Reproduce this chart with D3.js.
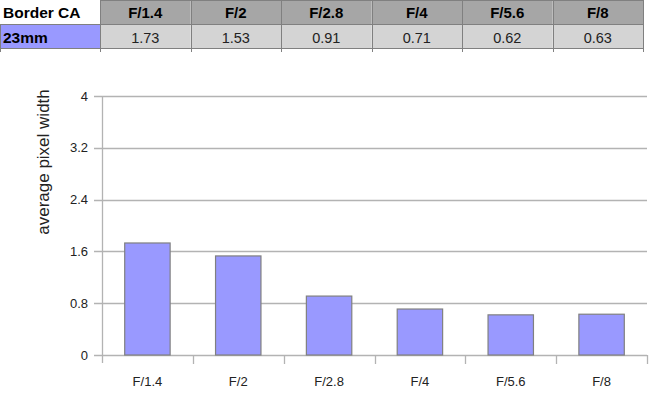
<!DOCTYPE html>
<html><head><meta charset="utf-8">
<script src="https://cdn.jsdelivr.net/npm/d3@7"></script>
<style>body{margin:0;background:#fff}svg{display:block}</style>
</head><body>
<svg id="c" width="665" height="395"></svg>
<script>
const categories = ["F/1.4","F/2","F/2.8","F/4","F/5.6","F/8"];
const values = [1.73,1.53,0.91,0.71,0.62,0.63];
const rowLabel = "23mm";
const tableTitle = "Border CA";
const yTicks = [0,0.8,1.6,2.4,3.2,4];
const yLabel = "average pixel width";

const svg = d3.select("#c");
const font = "'Liberation Sans', Arial, sans-serif";

// ---- table ----
const tx = d3.scaleBand().domain(categories).range([100,643]);
const tg = svg.append("g");
tg.selectAll("rect.h").data(categories).join("rect").attr("class","h")
  .attr("x", d=>tx(d)).attr("y",0).attr("width",tx.bandwidth()).attr("height",24)
  .attr("fill","#a6a6a6");
tg.selectAll("rect.d").data(categories).join("rect").attr("class","d")
  .attr("x", d=>tx(d)).attr("y",24).attr("width",tx.bandwidth()).attr("height",24)
  .attr("fill","#d4d4d4");
tg.append("rect").attr("x",0).attr("y",24).attr("width",100).attr("height",24).attr("fill","#9999ff");
tg.selectAll("line.v").data(categories.map(c=>tx(c)).concat([643])).join("line").attr("class","v")
  .attr("x1",d=>Math.round(d)+0.5).attr("x2",d=>Math.round(d)+0.5).attr("y1",0).attr("y2",52)
  .attr("stroke","#808080").attr("stroke-width",1);
tg.selectAll("line.hh").data([24,48]).join("line").attr("class","hh")
  .attr("x1",0).attr("x2",643).attr("y1",d=>d+0.5).attr("y2",d=>d+0.5)
  .attr("stroke","#808080");
tg.append("line").attr("x1",100).attr("x2",643).attr("y1",0.5).attr("y2",0.5).attr("stroke","#808080");
tg.append("line").attr("x1",0.5).attr("x2",0.5).attr("y1",24).attr("y2",52).attr("stroke","#808080");
tg.append("text").attr("x",3).attr("y",18).text(tableTitle)
  .attr("font-family",font).attr("font-weight","bold").attr("font-size",15.5).attr("fill","#000");
tg.append("text").attr("x",3).attr("y",43).text(rowLabel)
  .attr("font-family",font).attr("font-weight","bold").attr("font-size",15.5).attr("fill","#000");
tg.selectAll("text.hd").data(categories).join("text").attr("class","hd")
  .attr("x",d=>tx(d)+tx.bandwidth()/2).attr("y",18).attr("text-anchor","middle")
  .attr("font-family",font).attr("font-weight","bold").attr("font-size",15).text(d=>d);
tg.selectAll("text.dv").data(values).join("text").attr("class","dv")
  .attr("x",(d,i)=>tx(categories[i])+tx.bandwidth()/2).attr("y",42.5).attr("text-anchor","middle")
  .attr("font-family",font).attr("font-size",14.5).attr("fill","#222").text(d=>d.toFixed(2));

// ---- chart ----
const x = d3.scaleBand().domain(categories).range([102,647]).paddingInner(0.5).paddingOuter(0.25);
const y = d3.scaleLinear().domain([0,4]).range([355,96]);
const gridColor = "#b3b3b3";

svg.append("g").selectAll("line").data(yTicks).join("line")
  .attr("x1",94).attr("x2",647).attr("y1",d=>Math.round(y(d))+0.5).attr("y2",d=>Math.round(y(d))+0.5)
  .attr("stroke",gridColor).attr("stroke-width",1.3);
svg.append("line").attr("x1",102.5).attr("x2",102.5).attr("y1",96).attr("y2",363)
  .attr("stroke",gridColor).attr("stroke-width",1.3);
const xb = d3.scaleBand().domain(categories).range([102,647]);
svg.append("g").selectAll("line").data(categories.slice(1).map(c=>xb(c)).concat([647]))
  .join("line").attr("x1",d=>Math.round(d)+0.5).attr("x2",d=>Math.round(d)+0.5)
  .attr("y1",355).attr("y2",364).attr("stroke",gridColor).attr("stroke-width",1.3);

svg.append("g").selectAll("text").data(yTicks).join("text")
  .attr("x",88).attr("y",d=>y(d)+4.5).attr("text-anchor","end")
  .attr("font-family",font).attr("font-size",13).attr("fill","#222")
  .text(d=>d3.format("")(d));
svg.append("g").selectAll("text").data(categories).join("text")
  .attr("x",d=>xb(d)+xb.bandwidth()/2).attr("y",386).attr("text-anchor","middle")
  .attr("font-family",font).attr("font-size",13).attr("fill","#222").text(d=>d);

svg.append("g").selectAll("rect").data(values).join("rect")
  .attr("x",(d,i)=>x(categories[i])).attr("width",x.bandwidth())
  .attr("y",d=>y(d)).attr("height",d=>y(0)-y(d))
  .attr("fill","#9999ff").attr("stroke","#808080").attr("stroke-width",1.2);

svg.append("text").attr("transform","translate(49,162) rotate(-90)")
  .attr("text-anchor","middle").attr("font-family",font).attr("font-size",17)
  .attr("fill","#222").text(yLabel);
</script>
</body></html>
